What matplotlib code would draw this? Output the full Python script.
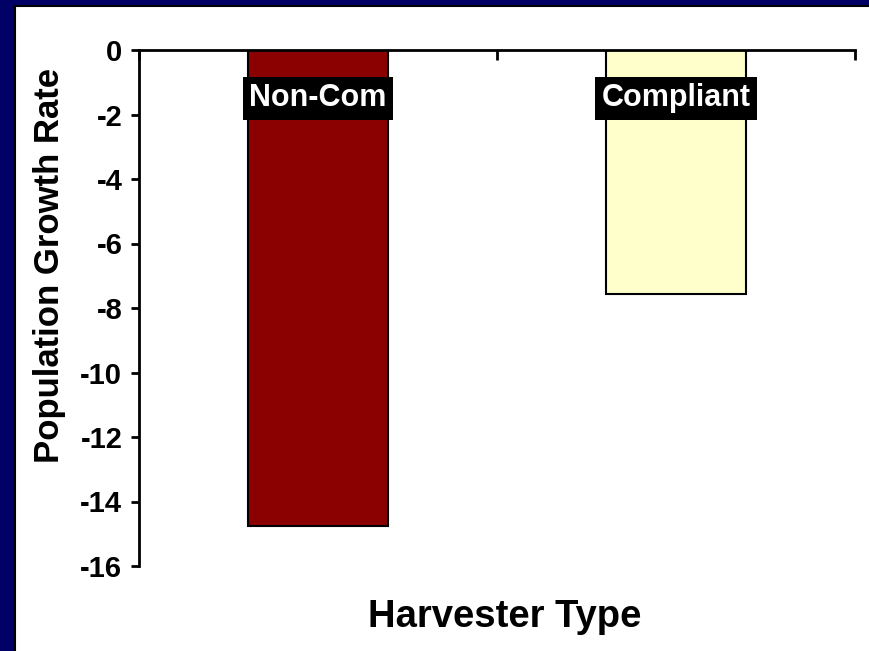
import matplotlib
matplotlib.use('Agg')
import matplotlib.pyplot as plt
from matplotlib.patches import Rectangle

plt.rcParams['font.family'] = ['Liberation Sans', 'DejaVu Sans']
plt.rcParams['font.weight'] = 'bold'

# data
categories = ['Non-Compliant', 'Compliant']
bar_labels = ['Non-Com', 'Compliant']
growth_rate = [-14.75, -7.57]
bar_colors = ['#8b0000', '#ffffcc']
yticks = [0, -2, -4, -6, -8, -10, -12, -14, -16]

fig = plt.figure(figsize=(8.7, 6.51), dpi=100)
W, H = 870.0, 651.0

# navy frame on the left and top
fig.patches.append(Rectangle((0, 0), 15 / W, 1, transform=fig.transFigure,
                             facecolor='#000066', edgecolor='none', zorder=0))
fig.patches.append(Rectangle((0, 1 - 6 / H), 1, 6 / H, transform=fig.transFigure,
                             facecolor='#000066', edgecolor='none', zorder=0))
fig.add_artist(plt.Line2D([15 / W, 15 / W], [0, 1 - 6 / H], transform=fig.transFigure,
                          color='black', lw=1.5))
fig.add_artist(plt.Line2D([15 / W, 1], [1 - 6 / H, 1 - 6 / H], transform=fig.transFigure,
                          color='black', lw=1.5))

ax = fig.add_axes([139 / W, 1 - 566 / H, (855 - 139) / W, (566 - 50) / H])

x = range(len(categories))
ax.bar(x, growth_rate, width=0.39, color=bar_colors, edgecolor='black', linewidth=1.5)

for i, lab in enumerate(bar_labels):
    ax.text(i, -1.5, lab, color='white', fontsize=22, fontweight='bold',
            ha='center', va='center',
            bbox=dict(boxstyle='square,pad=0.22', facecolor='black', edgecolor='none'))

ax.set_xlim(-0.5, 1.5)
ax.set_ylim(-16, 0)
ax.set_yticks(yticks)
ax.set_yticklabels([str(t) for t in yticks], fontsize=21, fontweight='bold')
ax.set_xticks([-0.5, 0.5, 1.5])
ax.set_xticklabels([])
ax.xaxis.set_ticks_position('top')
ax.tick_params(axis='x', direction='in', length=7, width=2)
ax.tick_params(axis='y', direction='out', length=6, width=2, pad=6)

ax.spines['right'].set_visible(False)
ax.spines['bottom'].set_visible(False)
ax.spines['left'].set_linewidth(2)
ax.spines['top'].set_linewidth(2)

fig.text(50 / W, 1 - 265 / H, 'Population Growth Rate', rotation=90,
         ha='center', va='center', fontsize=25, fontweight='bold')
fig.text(505 / W, 1 - 627 / H, 'Harvester Type', ha='center', va='baseline',
         fontsize=27.5, fontweight='bold')

fig.savefig('out.png', dpi=100)
